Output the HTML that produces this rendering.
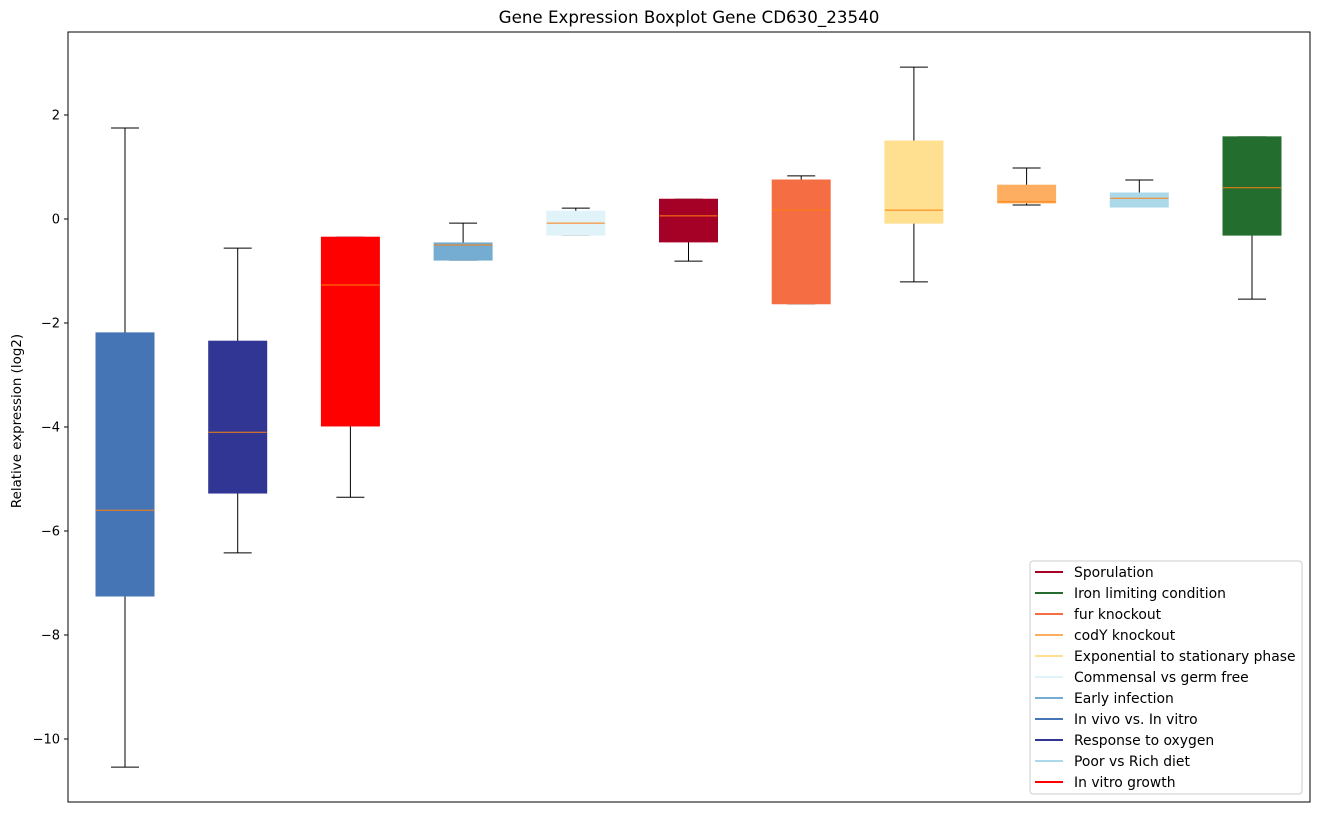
<!DOCTYPE html>
<html><head><meta charset="utf-8"><style>
body{margin:0;background:#fff;font-family:"Liberation Sans","DejaVu Sans",sans-serif;}
svg text{font-family:"DejaVu Sans","Liberation Sans",sans-serif;}
</style></head><body>
<svg id="chart" width="1318" height="812">
<rect x="0" y="0" width="1318" height="812" fill="#fff"/>
<text x="689" y="23" font-size="16.7" text-anchor="middle">Gene Expression Boxplot Gene CD630_23540</text>
<text transform="translate(21,421) rotate(-90)" font-size="13.4" text-anchor="middle">Relative expression (log2)</text>
<g id="marks"></g>
<rect x="68" y="32" width="1242" height="770" fill="none" stroke="#000" stroke-width="1"/>
<g id="legend"></g>
</svg>
<script>
const categories=["In vivo vs. In vitro","Response to oxygen","In vitro growth","Early infection","Commensal vs germ free","Sporulation","fur knockout","Exponential to stationary phase","codY knockout","Poor vs Rich diet","Iron limiting condition"];
const whiskerHigh=[1.75,-0.56,-0.35,-0.08,0.21,0.38,0.83,2.92,0.98,0.75,1.58];
const q3=[-2.19,-2.35,-0.35,-0.46,0.15,0.38,0.75,1.5,0.65,0.5,1.58];
const medians=[-5.6,-4.1,-1.27,-0.5,-0.08,0.06,0.17,0.17,0.33,0.4,0.6];
const q1=[-7.25,-5.27,-3.98,-0.79,-0.31,-0.44,-1.63,-0.08,0.31,0.23,-0.31];
const whiskerLow=[-10.54,-6.42,-5.35,-0.79,-0.31,-0.81,-1.63,-1.21,0.27,0.23,-1.54];
const colors=["#4575b4","#313695","#ff0000","#74add1","#e0f3f8","#a50026","#f46d43","#fee090","#fdae61","#abd9e9","#236e2f"];
const yTicks=[2,0,-2,-4,-6,-8,-10];
const legendLabels=["Sporulation","Iron limiting condition","fur knockout","codY knockout","Exponential to stationary phase","Commensal vs germ free","Early infection","In vivo vs. In vitro","Response to oxygen","Poor vs Rich diet","In vitro growth"];
const legendColors=["#a50026","#236e2f","#f46d43","#fdae61","#fee090","#e0f3f8","#74add1","#4575b4","#313695","#abd9e9","#ff0000"];

const NS="http://www.w3.org/2000/svg";
const svg=document.getElementById('chart');
const y=v=>219-52*v;
const x=i=>125+i*112.7;
function mk(tag,attrs,parent){const e=document.createElementNS(NS,tag);for(const k in attrs)e.setAttribute(k,attrs[k]);(parent||svg).appendChild(e);return e;}
yTicks.forEach(t=>{
  const g=mk('g',{});
  
  
  mk('line',{x1:64,x2:68,y1:y(t),y2:y(t),stroke:'#000'},g);
  const tx=mk('text',{x:60,y:y(t)+4.5,'font-size':13,'text-anchor':'end'},g);
  tx.textContent=(t<0?'\u2212'+(-t):String(t));
});
const marks=document.getElementById('marks');
const hw=29;
categories.forEach((c,i)=>{
  const g=mk('g',{},marks);
  
  
  const cx=x(i);
  mk('line',{x1:cx,x2:cx,y1:y(whiskerHigh[i]),y2:y(q3[i]),stroke:'#000'},g);
  mk('line',{x1:cx,x2:cx,y1:y(q1[i]),y2:y(whiskerLow[i]),stroke:'#000'},g);
  mk('line',{x1:cx-14,x2:cx+14,y1:y(whiskerHigh[i]),y2:y(whiskerHigh[i]),stroke:'#000'},g);
  mk('line',{x1:cx-14,x2:cx+14,y1:y(whiskerLow[i]),y2:y(whiskerLow[i]),stroke:'#000'},g);
  mk('rect',{x:cx-hw,y:y(q3[i]),width:hw*2,height:Math.max(1,y(q1[i])-y(q3[i])),fill:colors[i],stroke:colors[i]},g);
  mk('line',{x1:cx-hw,x2:cx+hw,y1:y(medians[i]),y2:y(medians[i]),stroke:'#ff7f0e'},g);
});
const lg=document.getElementById('legend');


mk('rect',{x:1030,y:561,width:272,height:233,rx:3,fill:'#fff',stroke:'#ccc'},lg);
legendLabels.forEach((l,i)=>{
  const g=mk('g',{},lg);
  
  
  const yy=572+i*21;
  mk('line',{x1:1035,x2:1063,y1:yy,y2:yy,stroke:legendColors[i],'stroke-width':2},g);
  const t=mk('text',{x:1074,y:yy+5,'font-size':13.9},g);
  t.textContent=l;
});
</script>
</body></html>
